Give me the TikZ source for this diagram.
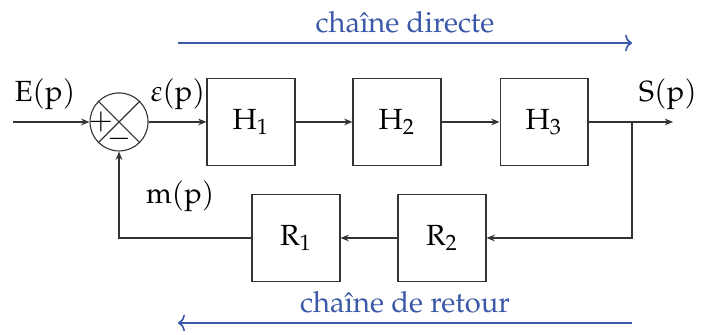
\documentclass[tikz,border=0pt]{standalone}
\usepackage[T1]{fontenc}
\usepackage{mathpazo}
\usepackage{tikz}
\usetikzlibrary{arrows.meta, positioning, calc}
\definecolor{bleuchaine}{RGB}{59,89,168}
\tikzset{
  bloc/.style = {draw = black!80, minimum width = 1.113cm, minimum height = 1.10cm, inner sep = 0pt},
  fleche/.style = {draw = black!80, arrows = {-Stealth[length=3pt, width=2.4pt]}},
  chaine/.style = {draw = bleuchaine, semithick, arrows = {-To[length=2.5pt, width=6pt]}},
  etiquette/.style = {text = bleuchaine}
}

\begin{document}
\begin{tikzpicture}[font = \fontsize{10.5}{12}\selectfont]
        % Cadre
        \useasboundingbox (0,0) rectangle (8.869,4.238);
        % Parametri
        \pgfmathsetmacro{\yh}{2.695}
        \pgfmathsetmacro{\yb}{1.227}
        % Comparateur
        \node[circle, draw = black!80, minimum size = 0.734cm, inner sep = 0pt] (sum) at (1.506,\yh) {};
        \draw[black!80] (sum.north west) -- (sum.south east) (sum.north east) -- (sum.south west);
        \node[inner sep = 0pt] (plus) at ([xshift=-0.23cm]sum.center) {$+$};
        \node[inner sep = 0pt] (moins) at ([yshift=-0.22cm]sum.center) {$-$};
        % Blocs
        \node[bloc] (H1) at (3.176,\yh) {$\mathrm{H}_1$};
        \node[bloc] (H2) at (5.023,\yh) {$\mathrm{H}_2$};
        \node[bloc] (H3) at (6.883,\yh) {$\mathrm{H}_3$};
        \node[bloc] (R2) at (5.592,\yb) {$\mathrm{R}_2$};
        \node[bloc] (R1) at (3.745,\yb) {$\mathrm{R}_1$};
        % Points
        \coordinate (entree) at (0.164,\yh);
        \coordinate (sortie) at (8.515,\yh);
        \coordinate (branche) at (7.996,\yh);
        % Liaisons
        \draw[fleche] (entree) -- (sum.west);
        \draw[fleche] (sum.east) -- (H1.west);
        \draw[fleche] (H1.east) -- (H2.west);
        \draw[fleche] (H2.east) -- (H3.west);
        \draw[fleche] (H3.east) -- (sortie);
        \draw[fleche] (branche) |- (R2.east);
        \draw[fleche] (R2.west) -- (R1.east);
        \draw[fleche] (R1.west) -| (sum.south);
        % Signaux
        \node[anchor = south] (E) at (0.569,2.72) {$\mathrm{E}(\mathrm{p})$};
        \node[anchor = south] (eps) at (2.25,2.72) {$\varepsilon(\mathrm{p})$};
        \node[anchor = south] (S) at (8.45,2.72) {$\mathrm{S}(\mathrm{p})$};
        \node (m) at (2.28,1.759) {$\mathrm{m}(\mathrm{p})$};
        % Chaines
        \coordinate (dA) at (2.252,3.694);
        \coordinate (dB) at (7.996,3.694);
        \coordinate (rA) at (7.996,0.152);
        \coordinate (rB) at (2.252,0.152);
        \draw[chaine] (dA) -- node[etiquette, above] (directe) {cha\^{\i}ne directe} (dB);
        \draw[chaine] (rA) -- node[etiquette, above] (retour) {cha\^{\i}ne de retour} (rB);
    \end{tikzpicture}
\end{document}
